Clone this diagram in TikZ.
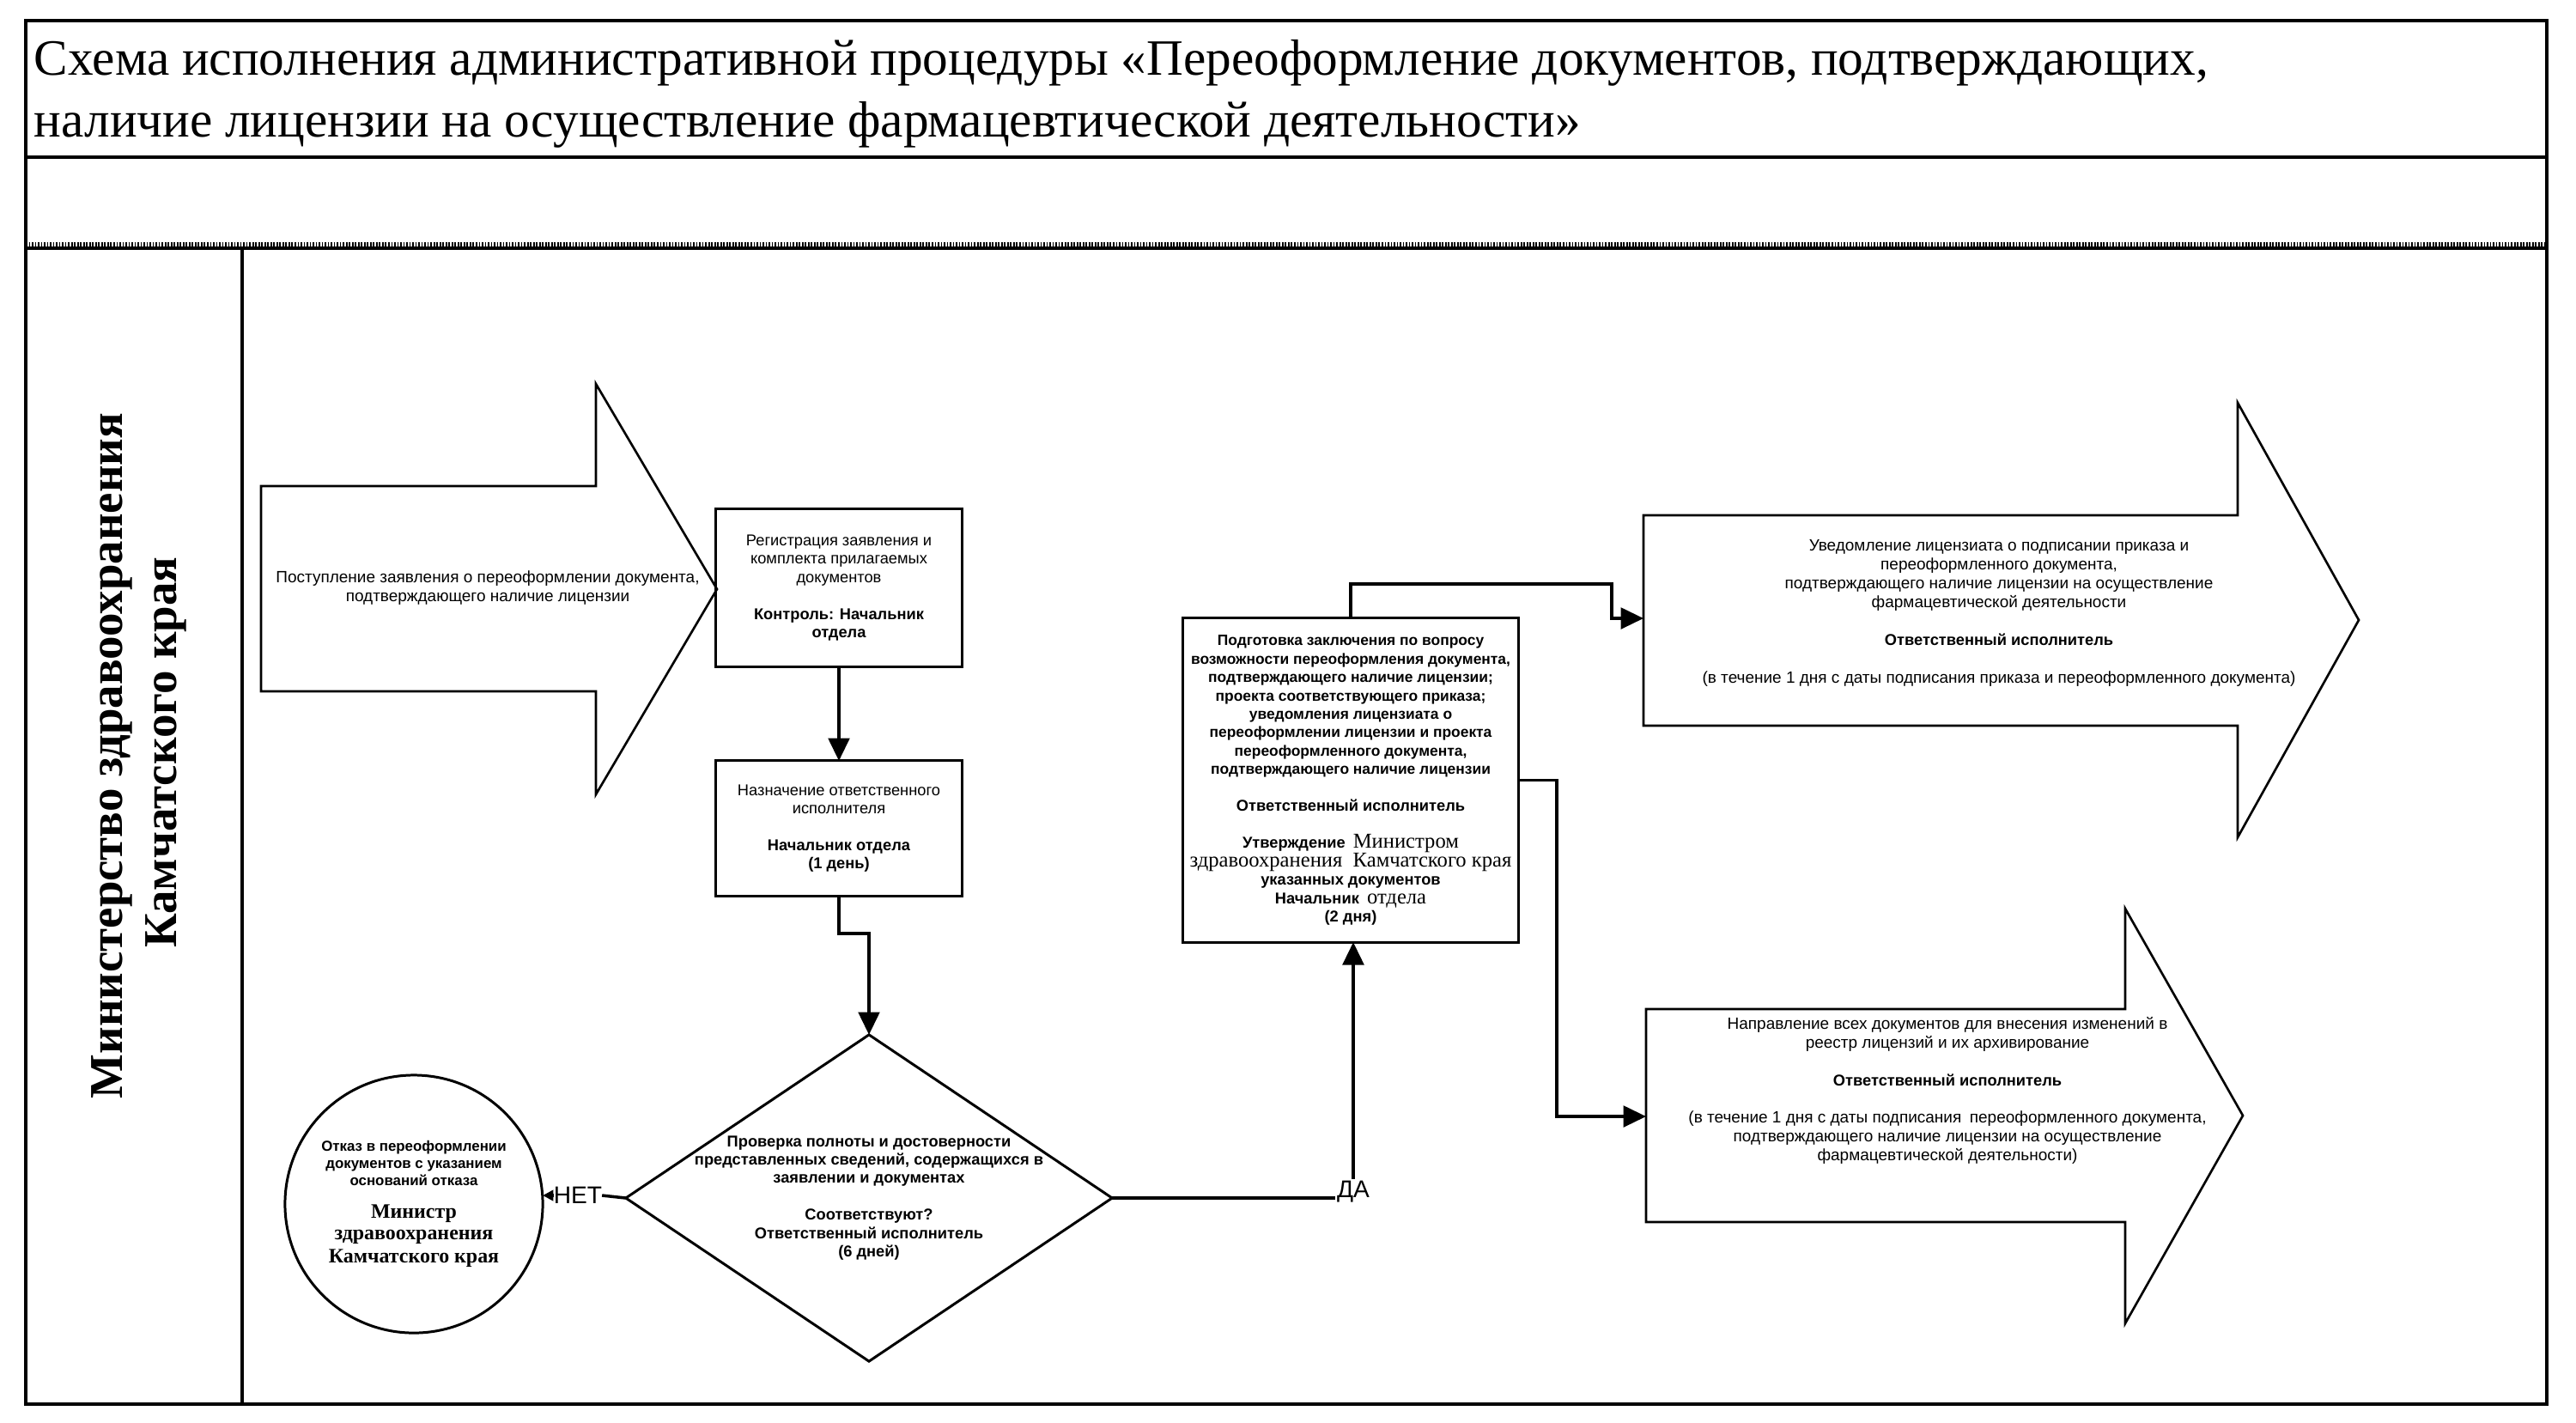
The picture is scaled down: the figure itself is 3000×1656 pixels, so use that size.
\documentclass[tikz,border=0pt]{standalone}
\usepackage{fontspec}
\setmainfont{Liberation Serif}
\newfontfamily\ars{Liberation Sans}
\usetikzlibrary{arrows.meta,shapes.geometric}
\newcommand\txR{\ars\mdseries\fontsize{5.4}{6.2}\selectfont}
\newcommand\txB{\ars\bfseries\fontsize{5.2}{6.2}\selectfont}
\newcommand\txD{\ars\bfseries\fontsize{4.95}{6.2}\selectfont}
\newcommand\txS{\rmfamily\mdseries\fontsize{7}{6.2}\selectfont}
\newcommand\txC{\rmfamily\bfseries\fontsize{6.8}{7}\selectfont}
\begin{document}
\begin{tikzpicture}[x=0.01cm, y=-0.01cm,
  every node/.style={outer sep=0pt},
  boxn/.style={draw, line width=0.85pt, inner sep=0pt, align=center,
    font={\ars\fontsize{5.2}{6.1}\selectfont\lineskiplimit=-20pt}},
  atext/.style={inner sep=0pt, align=center,
    font={\ars\fontsize{5.4}{6.26}\selectfont\lineskiplimit=-20pt}},
  bigarrow/.style={draw, line width=0.75pt, line join=miter},
  conn/.style={line width=1pt, -{Triangle[length=7.5pt,width=7pt]}},
  plain/.style={line width=1pt},
  yesno/.style={font=\ars\fontsize{8}{9}\selectfont},
  frame/.style={line width=0.9pt}]
\useasboundingbox (0,0) rectangle (3000,1656);
\fill[white] (0,0) rectangle (3000,1656);

% frame
\draw[frame] (30,24) rectangle (2966,1635);
\draw[line width=1.2pt] (30,183) -- (2966,183);
\draw[line width=1.8pt, dash pattern=on 0.5pt off 0.5pt] (30,285) -- (2966,285);
\draw[frame] (30,289) -- (2966,289);
\draw[frame] (282,289) -- (282,1635);

% title
\node[anchor=base west, inner sep=0pt, font=\fontsize{16.85}{20}\selectfont] (t1) at (40,87)
  {Схема исполнения административной процедуры «Переоформление документов, подтверждающих,};
\node[anchor=base west, inner sep=0pt, font=\fontsize{16.85}{20}\selectfont] (t2) at (40,159)
  {наличие лицензии на осуществление фармацевтической деятельности»};

% lane label
\node[rotate=90, anchor=base, inner sep=0pt, font=\bfseries\fontsize{15.6}{18}\selectfont] (lane1) at (142,880)
  {Министерство здравоохранения};
\node[rotate=90, anchor=base, inner sep=0pt, font=\bfseries\fontsize{15.6}{18}\selectfont] (lane2) at (205,876)
  {Камчатского края};

% big arrow 1
\draw[bigarrow] (304,566) -- (694,566) -- (694,447) -- (835,686) -- (694,925) -- (694,805) -- (304,805) -- cycle;
\node[atext] (a1t) at (568,685) {Поступление заявления о переоформлении документа,\\подтверждающего наличие лицензии};

% registration box
\node[boxn, minimum width=2.87cm, minimum height=1.83cm] (b1) at (977,684.5)
  {Регистрация заявления и\\комплекта прилагаемых\\документов\\[6.1pt]\txB Контроль: Начальник\\\txB отдела};

% assign box
\node[boxn, minimum width=2.86cm, minimum height=1.57cm] (b2) at (977,964.5)
  {Назначение ответственного\\исполнителя\\[6.1pt]\txB Начальник отдела\\\txB (1 день)};

% main preparation box
\node[boxn, minimum width=3.9cm, minimum height=3.77cm] (b3) at (1573,908.5)
  {\txD Подготовка заключения по вопросу\\
   \txD возможности переоформления документа,\\
   \txD подтверждающего наличие лицензии;\\
   \txD проекта соответствующего приказа;\\
   \txD уведомления лицензиата о\\
   \txD переоформлении лицензии и проекта\\
   \txD переоформленного документа,\\
   \txD подтверждающего наличие лицензии\\[6.1pt]
   \txB Ответственный исполнитель\\[6.1pt]
   \txB Утверждение\enspace\txS Министром\\
   \txS здравоохранения\enspace Камчатского края\\
   \txB указанных документов\\
   \txB Начальник\enspace\txS отдела\\
   \txB (2 дня)};

% decision diamond
\node[diamond, draw, line width=0.85pt, minimum width=5.66cm, minimum height=3.8cm,
      inner sep=0pt] (dia) at (1012,1395) {};
\node[inner sep=0pt, align=center, font={\ars\fontsize{5.2}{6.1}\selectfont\lineskiplimit=-20pt}] (diat) at (1012,1395)
  {\txB Проверка полноты и достоверности\\
   \txB представленных сведений, содержащихся в\\
   \txB заявлении и документах\\[6.1pt]
   \txB Соответствуют?\\
   \txB Ответственный исполнитель\\
   \txB (6 дней)};

% refusal circle
\node[circle, draw, line width=0.85pt, minimum size=3cm, inner sep=0pt, align=center,
      font={\ars\fontsize{4.8}{5.7}\selectfont\lineskiplimit=-20pt}] (circ) at (482,1402)
  {\ars\bfseries\fontsize{4.8}{5.7}\selectfont Отказ в переоформлении\\
   \ars\bfseries\fontsize{4.8}{5.7}\selectfont документов с указанием\\
   \ars\bfseries\fontsize{4.8}{5.7}\selectfont оснований отказа\\[5pt]
   \txC Министр\\[1.5pt]
   \txC здравоохранения\\[2pt]
   \txC Камчатского края};

% upper right arrow
\draw[bigarrow] (1914,600) -- (2606,600) -- (2606,469) -- (2747,722) -- (2606,975) -- (2606,845) -- (1914,845) -- cycle;
\coordinate (a2w) at (1914,720);
\node[atext] (a2t) at (2328,714)
  {Уведомление лицензиата о подписании приказа и\\
   переоформленного документа,\\
   подтверждающего наличие лицензии на осуществление\\
   фармацевтической деятельности\\[6.2pt]
   \txB Ответственный исполнитель\\[6.2pt]
   (в течение 1 дня с даты подписания приказа и переоформленного документа)};

% lower right arrow
\draw[bigarrow] (1917,1175) -- (2475,1175) -- (2475,1058) -- (2612,1299) -- (2475,1541) -- (2475,1423) -- (1917,1423) -- cycle;
\coordinate (a3w) at (1917,1300);
\node[atext] (a3t) at (2268,1270)
  {Направление всех документов для внесения изменений в\\
   реестр лицензий и их архивирование\\[6.2pt]
   \txB Ответственный исполнитель\\[6.2pt]
   (в течение 1 дня с даты подписания\enspace переоформленного документа,\\
   подтверждающего наличие лицензии на осуществление\\
   фармацевтической деятельности)};

% connectors
\draw[conn] (b1.south) -- (b2.north);
\draw[conn] (b2.south) -- ++(0,44) -| (dia.north);

\node[yesno, inner sep=0pt] (net) at (673,1392) {НЕТ};
\draw[plain] (dia.west) -- (net.east);
\draw[plain, -{Triangle[length=3.5pt,width=3.5pt]}] (net.west) -- (net.west -| circ.east);

\node[yesno, inner sep=0.5pt, anchor=base] (da) at (1576,1394) {ДА};
\draw[plain] (dia.east) -- (dia.east -| da.west);
\draw[conn] (da.north) -- (da.north |- b3.south);

\draw[conn] (b3.north) -- ++(0,-40) -| (1877,720) -- (a2w);
\draw[conn] (b3.east) -| (1813,1300) -- (a3w);
\end{tikzpicture}
\end{document}
